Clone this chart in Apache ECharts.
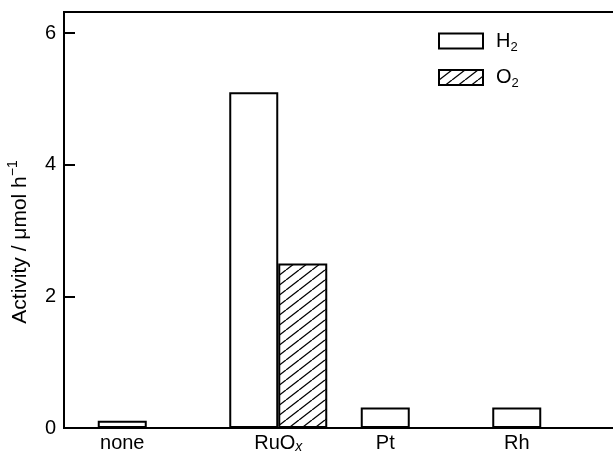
<!DOCTYPE html>
<html><head><meta charset="utf-8">
<script src="https://cdn.jsdelivr.net/npm/echarts@6/dist/echarts.min.js"></script>
<style>html,body{margin:0;padding:0;background:#fff}#c{width:613px;height:454px}</style>
</head><body><div id="c"></div>
<script>
// ---- data ----
const categories = ['none', 'RuOx', 'Pt', 'Rh'];
const h2Values = [0.11, 5.1, 0.31, 0.31];
const o2Values = [null, 2.5, null, null];
const yTickValues = [0, 2, 4, 6];
const seriesNames = ['H2', 'O2'];
const yAxisTitle = 'Activity / \u03bcmol h';

// ---- style ----
const FONT = '"Liberation Sans", Arial, Helvetica, sans-serif';
const FS = 20;
const BAR_W = 49;
const Y_MAX = 6.32;

function hatchCanvas() {
  const w = 13, h = 10;
  const c = document.createElement('canvas');
  c.width = w; c.height = h;
  const g = c.getContext('2d');
  g.fillStyle = '#fff'; g.fillRect(0, 0, w, h);
  g.strokeStyle = '#000'; g.lineWidth = 1.3;
  [-w, 0, w].forEach(dx => { g.beginPath(); g.moveTo(dx, h); g.lineTo(dx + w, 0); g.stroke(); });
  return c;
}
const hatch = { image: hatchCanvas(), repeat: 'repeat' };

const base = { fontFamily: FONT, fontSize: FS, color: '#000', lineHeight: 22 };
const rich = {
  n: base,
  shift: Object.assign({}, base, { padding: [0, BAR_W, 0, 0] }),
  sub: { fontFamily: FONT, fontSize: 13, color: '#000', padding: [12, 0, 0, 0] },
  subi: { fontFamily: FONT, fontSize: 14, fontStyle: 'italic', color: '#000', padding: [8, 0, 0, 0] },
  sup: { fontFamily: FONT, fontSize: 13, color: '#000', padding: [0, 0, 14, 0] },
  leg: Object.assign({}, base, { padding: [0, 0, 0, 8] }),
  yname: { fontFamily: FONT, fontSize: 21, color: '#000', lineHeight: 24 },
  ysup: { fontFamily: FONT, fontSize: 14, color: '#000', padding: [0, 44, 15, 0] }
};
function markup(s) { // chemical subscripts
  return s.replace(/O([a-z])$/, 'O{subi|$1}').replace(/([A-Z])(\d)$/, '$1{sub|$2}');
}

const chart = echarts.init(document.getElementById('c'), null, { renderer: 'canvas' });
chart.setOption({
  animation: false,
  backgroundColor: '#fff',
  grid: [
    { left: 64, right: -6, top: 12, bottom: 26, show: true, borderColor: '#000', borderWidth: 2,
      backgroundColor: 'transparent', outerBoundsMode: 'none', containLabel: false },
    { left: 81, right: 6, top: 12, bottom: 26, outerBoundsMode: 'none', containLabel: false }
  ],
  legend: {
    orient: 'vertical', left: 433, top: 26, itemWidth: 44, itemHeight: 15, itemGap: 14,
    icon: 'rect',
    itemStyle: { borderColor: '#000', borderWidth: 2 },
    data: seriesNames,
    formatter: name => {
      const m = name.match(/^([A-Z]+)(\d)$/);
      return '{leg|' + m[1] + '}{sub|' + m[2] + '}';
    },
    textStyle: { rich: rich }
  },
  xAxis: [
    { gridIndex: 0, type: 'value', min: 0, max: 1, show: false },
    {
      gridIndex: 1, type: 'category', data: categories,
      axisLine: { show: false }, axisTick: { show: false },
      axisLabel: {
        margin: 4, interval: 0,
        formatter: (v, i) => {
          const idx = categories.indexOf(v);
          const txt = markup(v);
          if (o2Values[idx] == null) return '{shift|' + txt + '}';
          return txt.replace(/^([^{]+)/, '{n|$1}');
        },
        rich: rich
      }
    }
  ],
  yAxis: [
    {
      gridIndex: 0, type: 'value', min: 0, max: Y_MAX, interval: 2,
      axisLine: { show: true, lineStyle: { color: '#000', width: 2 } },
      axisTick: { show: true, inside: true, length: 11, lineStyle: { color: '#000', width: 2 },
        customValues: yTickValues },
      axisLabel: { margin: 8, fontFamily: FONT, fontSize: FS, color: '#000', customValues: yTickValues },
      splitLine: { show: false },
      name: '{yname|' + yAxisTitle + '}{ysup|\u22121}',
      nameLocation: 'middle', nameGap: 29, nameRotate: 90,
      nameTextStyle: { fontFamily: FONT, fontSize: 21, color: '#000', rich: rich }
    },
    { gridIndex: 1, type: 'value', min: 0, max: Y_MAX, show: false }
  ],
  series: [
    {
      name: seriesNames[0], type: 'bar', xAxisIndex: 1, yAxisIndex: 1,
      data: h2Values, barWidth: BAR_W, barGap: '0%',
      itemStyle: { color: '#fff', borderColor: '#000', borderWidth: 2 }
    },
    {
      name: seriesNames[1], type: 'bar', xAxisIndex: 1, yAxisIndex: 1,
      data: o2Values, barWidth: BAR_W, barGap: '0%',
      itemStyle: { color: hatch, borderColor: '#000', borderWidth: 2 }
    }
  ]
});
</script></body></html>
